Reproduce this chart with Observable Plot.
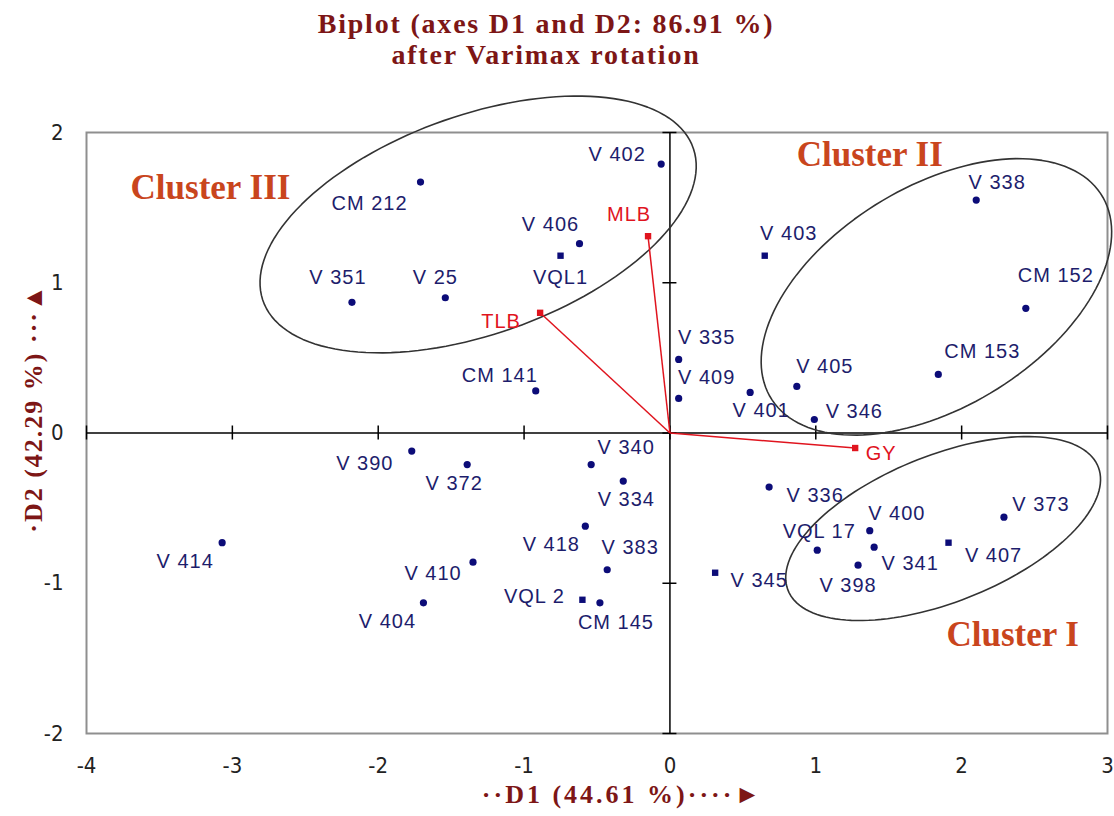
<!DOCTYPE html>
<html><head><meta charset="utf-8">
<script src="https://cdn.jsdelivr.net/npm/d3@7"></script>
<script src="https://cdn.jsdelivr.net/npm/@observablehq/plot@0.6"></script>
<style>
html,body{margin:0;padding:0;background:#fff;overflow:hidden;}
#title{width:1092px;height:92px;box-sizing:border-box;padding-top:8px;text-align:center;font-family:"Liberation Serif","Times New Roman",serif;font-weight:bold;font-size:28px;line-height:31px;letter-spacing:1.8px;color:#7d1616;}
#chart svg{overflow:visible;}
.lbl text{letter-spacing:1px;}
.ticklbl text{font-family:"Liberation Sans Narrow","DejaVu Sans Condensed","Liberation Sans",sans-serif;}
.axlbl text{letter-spacing:3px;}
.aylbl text{letter-spacing:2px;}
</style></head><body>
<div id="title"><div>Biplot (axes D1 and D2: 86.91 %)</div><div>after Varimax rotation</div></div>
<div id="chart"></div>
<script>
// Observations (varieties)
const names = ["CM 212","V 351","V 25","V 406","VQL1","V 402","CM 141","V 335","V 409","V 403","V 338","CM 152","CM 153","V 405","V 401","V 346","V 336","V 400","VQL 17","V 341","V 398","V 407","V 373","V 340","V 334","V 418","V 383","VQL 2","CM 145","V 372","V 410","V 345","V 390","V 414","V 404"];
const d1 = [-1.71,-2.18,-1.54,-0.62,-0.75,-0.06,-0.92,0.06,0.06,0.65,2.10,2.44,1.84,0.87,0.55,0.99,0.68,1.37,1.01,1.40,1.29,1.91,2.29,-0.54,-0.32,-0.58,-0.43,-0.60,-0.48,-1.39,-1.35,0.31,-1.77,-3.07,-1.69];
const d2 = [1.67,0.87,0.90,1.26,1.18,1.79,0.28,0.49,0.23,1.18,1.55,0.83,0.39,0.31,0.27,0.09,-0.36,-0.65,-0.78,-0.76,-0.88,-0.73,-0.56,-0.21,-0.32,-0.62,-0.91,-1.11,-1.13,-0.21,-0.86,-0.93,-0.12,-0.73,-1.13];
const squareMarked = ["VQL1","V 403","VQL 2","V 345","V 407"];

// Variables (vectors)
const varNames = ["TLB","MLB","GY"];
const varD1 = [-0.89,-0.15,1.27];
const varD2 = [0.80,1.31,-0.10];

// Cluster annotations
const clusterNames = ["Cluster I","Cluster II","Cluster III"];
const clusterD1 = [2.35,1.37,-3.15];
const clusterD2 = [-1.34,1.85,1.63];

// Cluster ellipses (center, semi-axes, rotation in degrees)
const ellipseCx = [1.873,1.827,-1.315];
const ellipseCy = [-0.636,0.906,1.388];
const ellipseA = [1.14,1.32,1.56];
const ellipseB = [0.49,0.74,0.73];
const ellipseAngle = [20.9,30.0,18.8];

const xTicks = [-4,-3,-2,-1,0,1,2,3];
const yTicks = [-2,-1,0,1,2];

// label placement (pixel offsets from the point)
const labelOffset = {
  "CM 212":[-51,22],"V 351":[-14,-25],"V 25":[-10,-20],"V 406":[-29,-19],"VQL1":[0,22],
  "V 402":[-44,-9],"CM 141":[-36,-15],"V 335":[28,-22],"V 409":[28,-21],"V 403":[24,-22],
  "V 338":[21,-18],"CM 152":[30,-33],"CM 153":[44,-23],"V 405":[28,-20],"V 401":[11,18],
  "V 346":[40,-8],"V 336":[46,9],"V 400":[27,-17],"VQL 17":[2,-19],"V 341":[36,16],
  "V 398":[-10,20],"V 407":[45,13],"V 373":[37,-13],"V 340":[35,-17],"V 334":[3,19],
  "V 418":[-34,18],"V 383":[23,-22],"VQL 2":[-48,-3],"CM 145":[16,20],"V 372":[-13,19],
  "V 410":[-40,11],"V 345":[44,8],"V 390":[-47,13],"V 414":[-37,19],"V 404":[-36,19],
  "TLB":[-39,9],"MLB":[-19,-22],"GY":[26,6]
};

const obs = names.map((name,i)=>({name, x:d1[i], y:d2[i], square: squareMarked.includes(name)}));
const vars = varNames.map((name,i)=>({name, x:varD1[i], y:varD2[i]}));
const clusters = clusterNames.map((name,i)=>({name, x:clusterD1[i], y:clusterD2[i]}));
const ellipsePts = [];
ellipseCx.forEach((cx,k)=>{
  const th = ellipseAngle[k]*Math.PI/180;
  for (let j=0;j<=144;j++){
    const t = j/144*2*Math.PI;
    ellipsePts.push({k,
      x: cx + ellipseA[k]*Math.cos(t)*Math.cos(th) - ellipseB[k]*Math.sin(t)*Math.sin(th),
      y: ellipseCy[k] + ellipseA[k]*Math.cos(t)*Math.sin(th) + ellipseB[k]*Math.sin(t)*Math.cos(th)});
  }
});

const navy = "#0c0c78", labelNavy = "#1d1d6c", red = "#e0141e", darkRed = "#7d1616";
const sans = "Liberation Sans, Arial, sans-serif";
const serif = "Liberation Serif, Times New Roman, serif";

const labelMarks = obs.map(d => Plot.text([d], {x:"x", y:"y", text:"name",
  dx: labelOffset[d.name][0], dy: labelOffset[d.name][1],
  fill: labelNavy, fontSize: 20, fontFamily: sans, className: "lbl"}));
const varLabelMarks = vars.map(d => Plot.text([d], {x:"x", y:"y", text:"name",
  dx: labelOffset[d.name][0], dy: labelOffset[d.name][1],
  fill: red, fontSize: 20, fontFamily: sans, className: "lbl"}));

const chart = Plot.plot({
  width: 1114, height: 724,
  marginTop: 40, marginLeft: 86, marginRight: 7, marginBottom: 83,
  style: {fontFamily: sans, fontSize: "20px", background: "#fff", overflow: "visible"},
  x: {domain: [-4,3]},
  y: {domain: [-2,2]},
  marks: [
    Plot.frame({stroke: "#8f8f8f", strokeWidth: 2}),
    Plot.ruleX([0], {stroke: "#000", strokeWidth: 1.5}),
    Plot.ruleY([0], {stroke: "#000", strokeWidth: 1.5}),
    Plot.ruleX(xTicks, {x: d=>d, y1: 0, y2: 0, insetTop: -7, insetBottom: -7, stroke: "#000", strokeWidth: 1.5}),
    Plot.ruleY(yTicks, {y: d=>d, x1: 0, x2: 0, insetLeft: -7, insetRight: -7, stroke: "#000", strokeWidth: 1.5}),
    Plot.axisX(xTicks, {anchor: "bottom", tickSize: 0, tickPadding: 24, fontSize: 22, fill: "#222", label: null, tickFormat: d => String(d), className: "ticklbl"}),
    Plot.axisY(yTicks, {anchor: "left", tickSize: 0, tickPadding: 23, fontSize: 22, fill: "#222", label: null, tickFormat: d => String(d), className: "ticklbl"}),
    Plot.line(ellipsePts, {x: "x", y: "y", z: "k", stroke: "#333", strokeWidth: 1.6}),
    Plot.link(vars, {x1: 0, y1: 0, x2: "x", y2: "y", stroke: red, strokeWidth: 1.5}),
    Plot.dot(vars, {x: "x", y: "y", symbol: "square", r: 3.6, fill: red}),
    Plot.dot(obs.filter(d=>!d.square), {x: "x", y: "y", symbol: "circle", r: 3.6, fill: navy}),
    Plot.dot(obs.filter(d=>d.square), {x: "x", y: "y", symbol: "square", r: 3.6, fill: navy}),
    ...labelMarks,
    ...varLabelMarks,
    Plot.text(clusters, {x: "x", y: "y", text: "name", fill: "#c9451d", fontSize: 35, fontWeight: "bold", fontFamily: serif}),
    Plot.text(["\u00b7\u00b7D1 (44.61 %)\u00b7\u00b7\u00b7\u00b7\u25ba"], {text: d=>d, frameAnchor: "bottom-left", textAnchor: "middle", dx: 536, dy: 69, fill: darkRed, fontSize: 26, fontWeight: "bold", fontFamily: serif, className: "axlbl"}),
    Plot.text(["\u00b7D2 (42.29 %) \u00b7\u00b7\u00b7\u25b2"], {text: d=>d, frameAnchor: "left", textAnchor: "middle", rotate: -90, dx: -53, dy: -25, fill: darkRed, fontSize: 26, fontWeight: "bold", fontFamily: serif, className: "aylbl"})
  ]
});
document.getElementById("chart").appendChild(chart);
</script></body></html>
